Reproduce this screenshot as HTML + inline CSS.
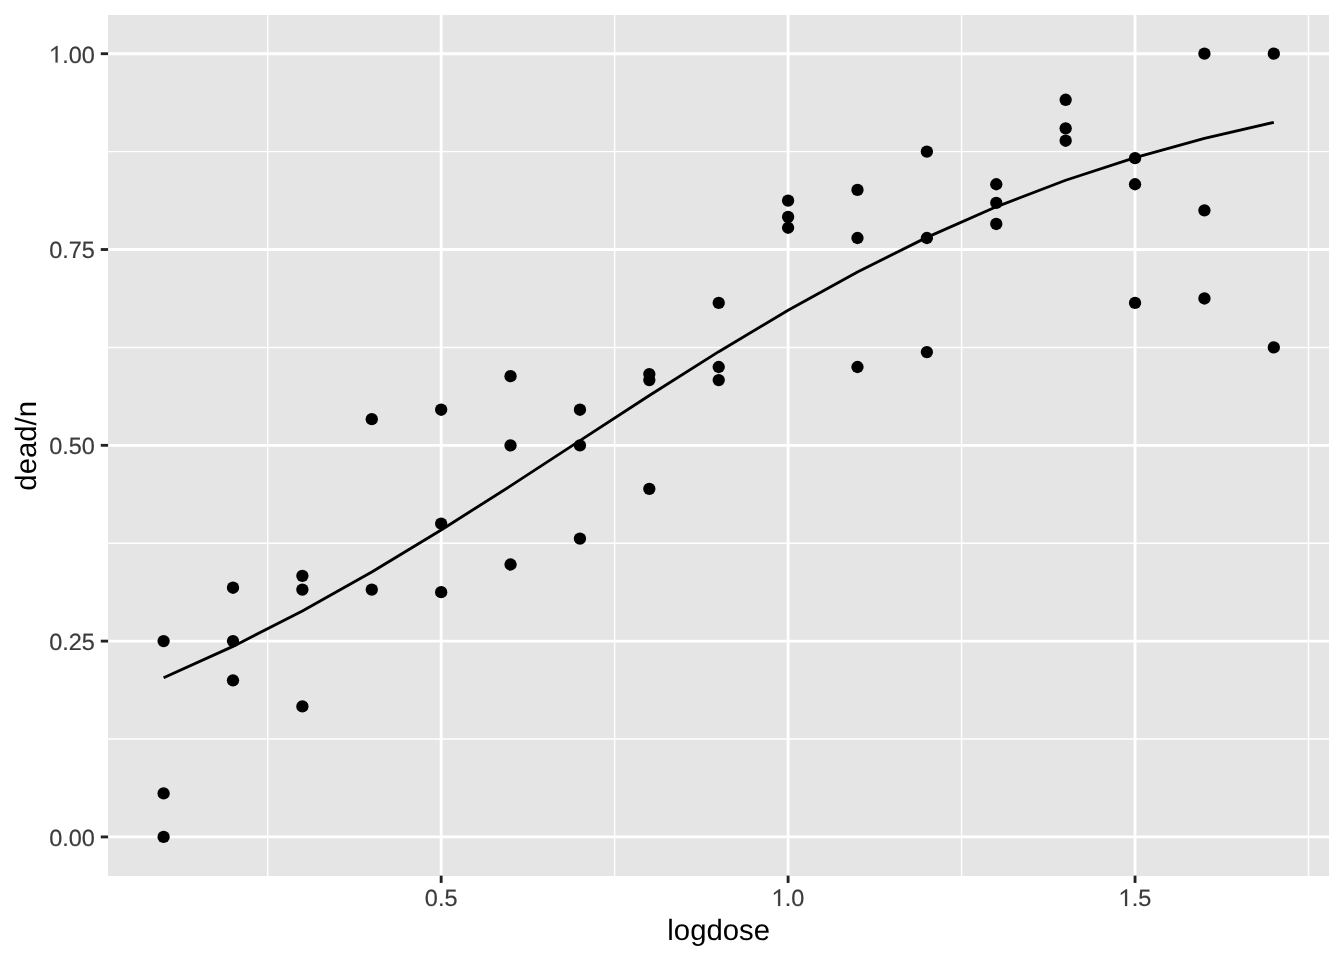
<!DOCTYPE html>
<html><head><meta charset="utf-8"><style>
html,body{margin:0;padding:0;background:#fff;width:1344px;height:960px;overflow:hidden}
svg{display:block;will-change:transform;text-rendering:geometricPrecision;font-family:"Liberation Sans",sans-serif}
.tl{stroke:#3B3B3B;stroke-width:0.2px}
</style></head><body>
<svg width="1344" height="960" viewBox="0 0 1344 960">
<rect x="0" y="0" width="1344" height="960" fill="#FFFFFF"/>
<rect x="108" y="15" width="1221" height="861" fill="#E5E5E5"/>
<line x1="108.10" y1="739.03" x2="1329.33" y2="739.03" stroke="#FFFFFF" stroke-width="1.423"/>
<line x1="108.10" y1="543.22" x2="1329.33" y2="543.22" stroke="#FFFFFF" stroke-width="1.423"/>
<line x1="108.10" y1="347.42" x2="1329.33" y2="347.42" stroke="#FFFFFF" stroke-width="1.423"/>
<line x1="108.10" y1="151.61" x2="1329.33" y2="151.61" stroke="#FFFFFF" stroke-width="1.423"/>
<line x1="267.69" y1="15.00" x2="267.69" y2="876.00" stroke="#FFFFFF" stroke-width="1.423"/>
<line x1="614.63" y1="15.00" x2="614.63" y2="876.00" stroke="#FFFFFF" stroke-width="1.423"/>
<line x1="961.57" y1="15.00" x2="961.57" y2="876.00" stroke="#FFFFFF" stroke-width="1.423"/>
<line x1="1308.51" y1="15.00" x2="1308.51" y2="876.00" stroke="#FFFFFF" stroke-width="1.423"/>
<line x1="108.10" y1="836.93" x2="1329.33" y2="836.93" stroke="#FFFFFF" stroke-width="2.845"/>
<line x1="108.10" y1="641.12" x2="1329.33" y2="641.12" stroke="#FFFFFF" stroke-width="2.845"/>
<line x1="108.10" y1="445.32" x2="1329.33" y2="445.32" stroke="#FFFFFF" stroke-width="2.845"/>
<line x1="108.10" y1="249.51" x2="1329.33" y2="249.51" stroke="#FFFFFF" stroke-width="2.845"/>
<line x1="108.10" y1="53.71" x2="1329.33" y2="53.71" stroke="#FFFFFF" stroke-width="2.845"/>
<line x1="441.16" y1="15.00" x2="441.16" y2="876.00" stroke="#FFFFFF" stroke-width="2.845"/>
<line x1="788.10" y1="15.00" x2="788.10" y2="876.00" stroke="#FFFFFF" stroke-width="2.845"/>
<line x1="1135.04" y1="15.00" x2="1135.04" y2="876.00" stroke="#FFFFFF" stroke-width="2.845"/>
<circle cx="163.61" cy="641.12" r="6.16" fill="#000000"/>
<circle cx="163.61" cy="793.42" r="6.16" fill="#000000"/>
<circle cx="163.61" cy="836.93" r="6.16" fill="#000000"/>
<circle cx="233.00" cy="587.72" r="6.16" fill="#000000"/>
<circle cx="233.00" cy="641.12" r="6.16" fill="#000000"/>
<circle cx="233.00" cy="680.29" r="6.16" fill="#000000"/>
<circle cx="302.39" cy="575.86" r="6.16" fill="#000000"/>
<circle cx="302.39" cy="589.60" r="6.16" fill="#000000"/>
<circle cx="302.39" cy="706.39" r="6.16" fill="#000000"/>
<circle cx="371.77" cy="419.21" r="6.16" fill="#000000"/>
<circle cx="371.77" cy="589.60" r="6.16" fill="#000000"/>
<circle cx="441.16" cy="409.72" r="6.16" fill="#000000"/>
<circle cx="441.16" cy="523.64" r="6.16" fill="#000000"/>
<circle cx="441.16" cy="592.17" r="6.16" fill="#000000"/>
<circle cx="510.55" cy="376.21" r="6.16" fill="#000000"/>
<circle cx="510.55" cy="445.32" r="6.16" fill="#000000"/>
<circle cx="510.55" cy="564.51" r="6.16" fill="#000000"/>
<circle cx="579.94" cy="409.72" r="6.16" fill="#000000"/>
<circle cx="579.94" cy="445.32" r="6.16" fill="#000000"/>
<circle cx="579.94" cy="538.56" r="6.16" fill="#000000"/>
<circle cx="649.33" cy="374.12" r="6.16" fill="#000000"/>
<circle cx="649.33" cy="380.05" r="6.16" fill="#000000"/>
<circle cx="649.33" cy="488.83" r="6.16" fill="#000000"/>
<circle cx="718.72" cy="302.92" r="6.16" fill="#000000"/>
<circle cx="718.72" cy="367.00" r="6.16" fill="#000000"/>
<circle cx="718.72" cy="380.05" r="6.16" fill="#000000"/>
<circle cx="788.10" cy="200.56" r="6.16" fill="#000000"/>
<circle cx="788.10" cy="216.88" r="6.16" fill="#000000"/>
<circle cx="788.10" cy="227.76" r="6.16" fill="#000000"/>
<circle cx="857.49" cy="189.92" r="6.16" fill="#000000"/>
<circle cx="857.49" cy="238.00" r="6.16" fill="#000000"/>
<circle cx="857.49" cy="367.00" r="6.16" fill="#000000"/>
<circle cx="926.88" cy="151.61" r="6.16" fill="#000000"/>
<circle cx="926.88" cy="238.00" r="6.16" fill="#000000"/>
<circle cx="926.88" cy="352.08" r="6.16" fill="#000000"/>
<circle cx="996.27" cy="184.25" r="6.16" fill="#000000"/>
<circle cx="996.27" cy="202.89" r="6.16" fill="#000000"/>
<circle cx="996.27" cy="223.98" r="6.16" fill="#000000"/>
<circle cx="1065.66" cy="99.78" r="6.16" fill="#000000"/>
<circle cx="1065.66" cy="128.30" r="6.16" fill="#000000"/>
<circle cx="1065.66" cy="140.73" r="6.16" fill="#000000"/>
<circle cx="1135.04" cy="158.14" r="6.16" fill="#000000"/>
<circle cx="1135.04" cy="184.25" r="6.16" fill="#000000"/>
<circle cx="1135.04" cy="302.92" r="6.16" fill="#000000"/>
<circle cx="1204.43" cy="53.71" r="6.16" fill="#000000"/>
<circle cx="1204.43" cy="210.35" r="6.16" fill="#000000"/>
<circle cx="1204.43" cy="298.47" r="6.16" fill="#000000"/>
<circle cx="1273.82" cy="53.71" r="6.16" fill="#000000"/>
<circle cx="1273.82" cy="347.42" r="6.16" fill="#000000"/>
<polyline points="163.61,677.82 233.00,646.41 302.39,611.04 371.77,572.04 441.16,530.02 510.55,485.84 579.94,440.60 649.33,395.49 718.72,351.67 788.10,310.22 857.49,271.93 926.88,237.37 996.27,206.80 1065.66,180.24 1135.04,157.53 1204.43,138.38 1273.82,122.40" fill="none" stroke="#000000" stroke-width="2.845" stroke-linejoin="round" stroke-linecap="butt"/>
<line x1="100.77" y1="836.93" x2="108.10" y2="836.93" stroke="#222222" stroke-width="2.845"/>
<line x1="100.77" y1="641.12" x2="108.10" y2="641.12" stroke="#222222" stroke-width="2.845"/>
<line x1="100.77" y1="445.32" x2="108.10" y2="445.32" stroke="#222222" stroke-width="2.845"/>
<line x1="100.77" y1="249.51" x2="108.10" y2="249.51" stroke="#222222" stroke-width="2.845"/>
<line x1="100.77" y1="53.71" x2="108.10" y2="53.71" stroke="#222222" stroke-width="2.845"/>
<line x1="441.16" y1="875.6" x2="441.16" y2="882.93" stroke="#222222" stroke-width="2.845"/>
<line x1="788.10" y1="875.6" x2="788.10" y2="882.93" stroke="#222222" stroke-width="2.845"/>
<line x1="1135.04" y1="875.6" x2="1135.04" y2="882.93" stroke="#222222" stroke-width="2.845"/>
<text x="94.9" y="845.83" font-size="23.47" fill="#3B3B3B" class="tl" text-anchor="end">0.00</text>
<text x="94.9" y="650.02" font-size="23.47" fill="#3B3B3B" class="tl" text-anchor="end">0.25</text>
<text x="94.9" y="454.22" font-size="23.47" fill="#3B3B3B" class="tl" text-anchor="end">0.50</text>
<text x="94.9" y="258.41" font-size="23.47" fill="#3B3B3B" class="tl" text-anchor="end">0.75</text>
<path transform="translate(49.23,62.61) scale(0.02347,-0.02347)" d="M270,0L357,0L357,711L310,711L90,550L90,465L270,596Z" fill="#3B3B3B" stroke="#3B3B3B" stroke-width="8"/>
<text x="62.28" y="62.61" font-size="23.47" fill="#3B3B3B" class="tl">.00</text>
<text x="441.16" y="906.0" font-size="23.47" fill="#3B3B3B" class="tl" text-anchor="middle">0.5</text>
<path transform="translate(771.79,906.00) scale(0.02347,-0.02347)" d="M270,0L357,0L357,711L310,711L90,550L90,465L270,596Z" fill="#3B3B3B" stroke="#3B3B3B" stroke-width="8"/>
<text x="784.84" y="906.0" font-size="23.47" fill="#3B3B3B" class="tl">.0</text>
<path transform="translate(1118.73,906.00) scale(0.02347,-0.02347)" d="M270,0L357,0L357,711L310,711L90,550L90,465L270,596Z" fill="#3B3B3B" stroke="#3B3B3B" stroke-width="8"/>
<text x="1131.78" y="906.0" font-size="23.47" fill="#3B3B3B" class="tl">.5</text>
<text x="718.71" y="940.2" font-size="29.33" fill="#000000" text-anchor="middle">logdose</text>
<text transform="translate(35.5,445.8) rotate(-90)" x="0" y="0" font-size="29.33" fill="#000000" text-anchor="middle">dead/n</text>
</svg>
</body></html>
